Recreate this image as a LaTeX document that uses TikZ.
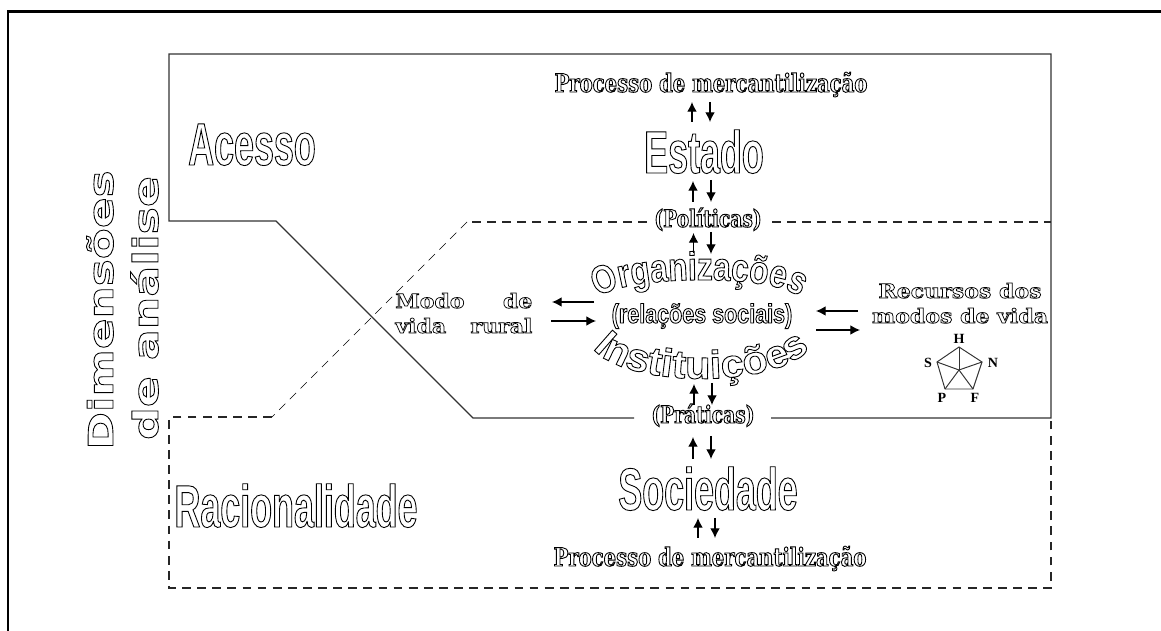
\documentclass[tikz,border=0pt]{standalone}
\usepackage{fontspec}
\usetikzlibrary{decorations.text,arrows.meta}
\newfontfamily\bigfont{Liberation Sans}[FakeStretch=0.6]
\newfontfamily\midfont{Liberation Sans}[FakeStretch=0.8]
\newfontfamily\arcfont{Liberation Sans}[FakeStretch=1.05]
\newfontfamily\slabfont{DejaVu Serif}[FakeStretch=0.78]
\newfontfamily\smallslab{DejaVu Serif}[FakeStretch=1.12]
\newfontfamily\wideside{DejaVu Sans}[FakeStretch=1.33]
\newfontfamily\petfont{Liberation Serif}
\newcommand{\outl}[1]{\special{pdf:code 1 Tr 0.5 w}#1\special{pdf:code 0 Tr 1 w}}
\newcommand{\outs}[1]{\special{pdf:code 1 Tr 0.42 w}#1\special{pdf:code 0 Tr 1 w}}
\tikzset{
    title/.style={inner sep=0pt, anchor=base, font=\bigfont\bfseries\fontsize{34}{34}\selectfont},
    slab/.style={inner sep=0pt, anchor=base, font=\slabfont\bfseries\fontsize{13.6}{13.6}\selectfont},
    proc/.style={inner sep=0pt, anchor=base, font=\slabfont\bfseries\fontsize{14.3}{14.3}\selectfont},
    small/.style={inner sep=0pt, anchor=base, font=\smallslab\bfseries\fontsize{11.2}{14.2}\selectfont},
    pet/.style={inner sep=0pt, font=\petfont\bfseries\fontsize{8}{8}\selectfont},
    frame/.style={line width=1.3pt},
    solid line/.style={line width=0.8pt, black!80},
    dash line/.style={line width=0.7pt, black!85, dash pattern=on 5pt off 3.6pt},
    thin dash/.style={line width=0.4pt, dash pattern=on 5pt off 3.6pt},
    pair/.style={-{Latex[length=5.5pt,width=5.5pt]}, line width=0.7pt},
    wheel/.style={line width=0.55pt, black!80}
}
\begin{document}
\begin{tikzpicture}[x=0.02cm, y=-0.02cm]
    \useasboundingbox (0,0) rectangle (1161,631);

    % Define nodes
    \node[proc] (P1) at (711,92) {\outl{Processo de mercantilização}};
    \node[title] (Estado) at (704,173) {\outl{Estado}};
    \node[slab] (Pol) at (708,227) {\outl{(Políticas)}};
    \node[title] (Acesso) at (252,165) {\outl{Acesso}};
    \node[title] (Rac) at (296,527) {\outl{Racionalidade}};
    \node[title] (Soc) at (708,510) {\outl{Sociedade}};
    \node[slab] (Pra) at (703,423) {\outl{(Práticas)}};
    \node[proc] (P2) at (710,566) {\outl{Processo de mercantilização}};
    \node[inner sep=0pt, anchor=base, rotate=90, font=\wideside\bfseries\fontsize{19.4}{19.4}\selectfont] (D1) at (113,310) {\outl{Dimensões}};
    \node[inner sep=0pt, anchor=base, rotate=90, font=\wideside\bfseries\fontsize{19.6}{19.6}\selectfont] (D2) at (158,308) {\outl{de análise}};
    \node[inner sep=0pt, anchor=base, font=\midfont\bfseries\fontsize{15.3}{15.3}\selectfont] (Rel) at (702,323) {\outl{(relações sociais)}};
    \node[small, text width=78pt, anchor=base west] (Modo) at (395,308) {\outs{Modo\hfill de}\\\outs{vida\hfill rural}};
    \node[small] (Rec1) at (960,298) {\outs{Recursos dos}};
    \node[small] (Rec2) at (960,323) {\outs{modos de vida}};

    % Curved words
    \coordinate (O1) at (597,298);
    \coordinate (O2) at (800,298);
    \coordinate (I1) at (590,345);
    \coordinate (I2) at (812,345);
    \path[decorate, decoration={text along path, text align={center},
        text={|\midfont\bfseries\fontsize{22.5}{22.5}\selectfont\special{pdf:code 1 Tr 0.5 w}|Organizações}}]
        (O1) .. controls (625,274) and (780,274) .. (O2);
    \path[decorate, decoration={text along path, text align={center},
        text={|\arcfont\bfseries\fontsize{22.5}{22.5}\selectfont\special{pdf:code 1 Tr 0.5 w}|Instituições}}]
        (I1) .. controls (620,390) and (785,390) .. (I2);

    % Pentagon
    \coordinate (H) at (959,347);
    \coordinate (N) at (982,362);
    \coordinate (F) at (973,389);
    \coordinate (Q) at (945,389);
    \coordinate (S) at (937,362);
    \coordinate (C) at (959,370);
    \draw[wheel] (H) -- (N) -- (F) -- (Q) -- (S) -- cycle;
    \foreach \v in {H,N,F,Q,S}
        \draw[wheel] (C) -- (\v);
    \node[pet] (LH) at (959,339) {H};
    \node[pet] (LN) at (993,363) {N};
    \node[pet] (LF) at (975,398) {F};
    \node[pet] (LP) at (942,398) {P};
    \node[pet] (LS) at (928,363) {S};

    % Draw edges
    \coordinate (PraL) at (634,418);
    \coordinate (PraR) at (771,418);
    \coordinate (PolL) at (647,222);
    \coordinate (PolR) at (772,222);
    \coordinate (K1) at (467,222);
    \coordinate (K2) at (272,417);
    \draw[frame] (8,631) -- (8,11.5) -- (1161,11.5);
    \draw[solid line] (PraR) -- (1051,418) -- (1051,54) -- (169,54) -- (169,221) -- (276,221) -- (473,418) -- (PraL);
    \draw[dash line] (PolR) -- (1051,222);
    \draw[dash line] (PolL) -- (K1);
    \draw[thin dash] (K1) -- (K2);
    \draw[dash line] (K2) -- (169,417) -- (169,588) -- (1051,588) -- (1051,418);

    \foreach \n/\xa/\ya/\xb/\yb in {a/692/122/692/102, b/710/102/710/122, c/693/202/693/181, d/711/180/711/202,
        e/693.5/253/693.5/233, f/711/232/711/254, g/694/405/694/384, h/712/383/712/405,
        i/693/459/693/437, j/711/436/711/459, k/698/538/698/518, l/715/518/715/538,
        m/594/302/552/302, n/551/321/596/321, o/858/311/816/311, p/816/330/860/330} {
        \coordinate (s\n) at (\xa,\ya);
        \coordinate (t\n) at (\xb,\yb);
        \draw[pair] (s\n) -- (t\n);
    }
\end{tikzpicture}
\end{document}
